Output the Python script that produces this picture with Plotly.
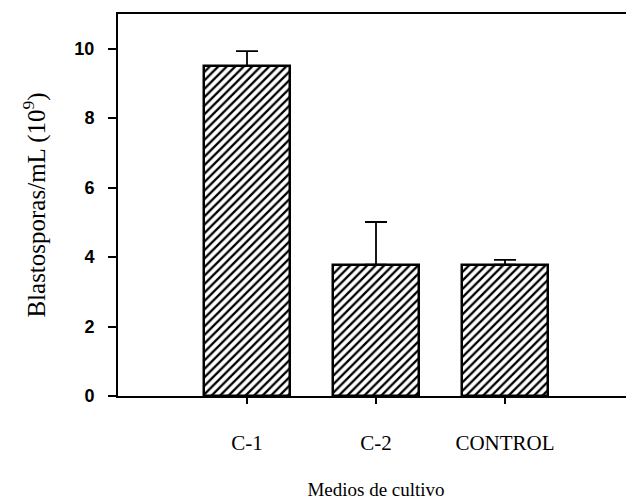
import plotly.graph_objects as go

categories = ["C-1", "C-2", "CONTROL"]
values = [9.5, 3.78, 3.78]
errors_plus = [0.43, 1.23, 0.14]
y_ticks = [0, 2, 4, 6, 8, 10]

x_pos = [1, 2, 3]

fig = go.Figure()
fig.add_trace(go.Bar(
    x=x_pos, y=values, width=0.67,
    marker=dict(color="white", line=dict(color="black", width=2.5),
                pattern=dict(shape="/", fgcolor="black", bgcolor="white", fgopacity=1,
                             size=6, solidity=0.38)),
    error_y=dict(type="data", symmetric=False, array=errors_plus, arrayminus=[0, 0, 0],
                 color="black", thickness=1.8, width=11),
))

# page body has an 8px margin, so the figure is sized to fit the 634x500 window
fig.update_layout(
    width=626, height=492,
    margin=dict(l=110, r=0, t=6, b=104),
    plot_bgcolor="white", paper_bgcolor="white",
    showlegend=False,
    bargap=0,
)
fig.update_xaxes(
    range=[0, 4], tickvals=x_pos, ticktext=categories,
    showline=True, linecolor="black", linewidth=2, mirror=True,
    ticks="outside", ticklen=6, tickcolor="black", tickwidth=1.5,
    tickfont=dict(family="Liberation Serif", size=21, color="black"),
    ticklabelstandoff=21,
    showgrid=False, zeroline=False, automargin=False,
    title=dict(text="Medios de cultivo", font=dict(family="Liberation Serif", size=19, color="black"), standoff=28),
)
fig.update_yaxes(
    range=[0, 11], tickvals=y_ticks,
    showline=True, linecolor="black", linewidth=2,
    ticks="outside", ticklen=8, tickcolor="black", tickwidth=1.5,
    tickfont=dict(family="Liberation Sans", size=18, color="black", weight="bold"),
    ticklabelstandoff=10,
    showgrid=False, zeroline=False, automargin=False,
    title=dict(text="Blastosporas/mL (10<sup>9</sup>)", font=dict(family="Liberation Serif", size=25, color="black"), standoff=22),
)

fig.write_html("out.html")
